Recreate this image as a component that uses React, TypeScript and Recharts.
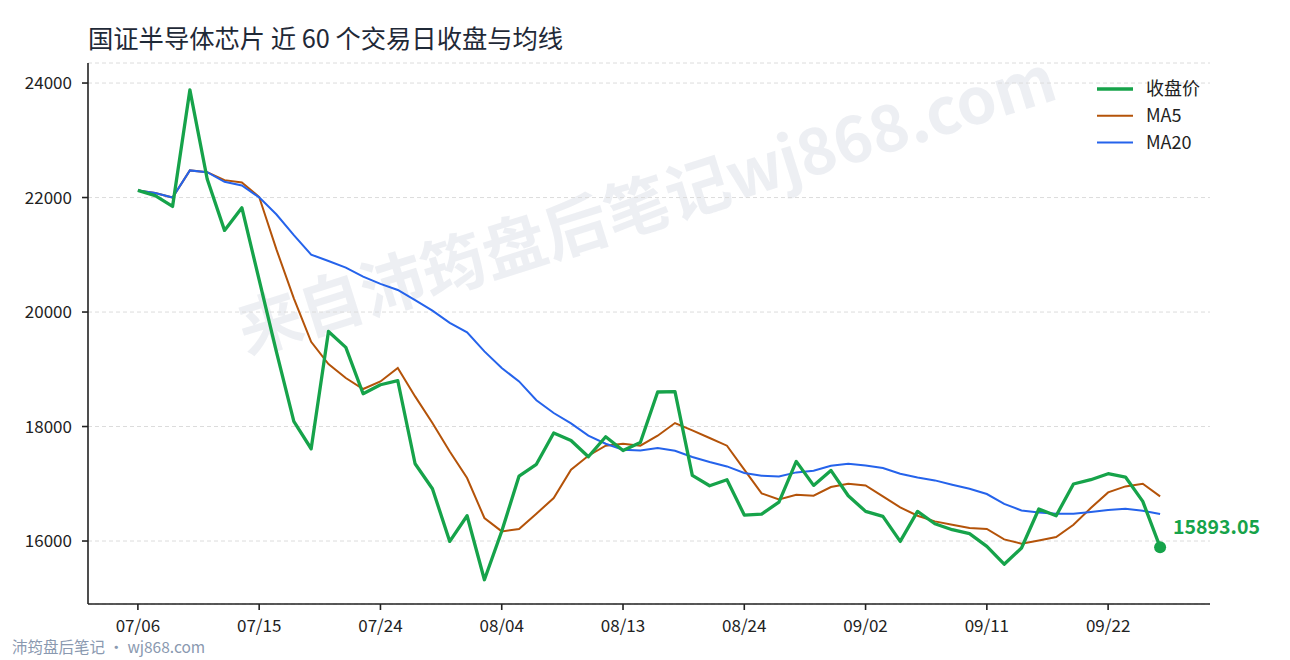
import React from "react";
import { LineChart, Line, XAxis, YAxis, CartesianGrid } from "recharts";

const FONT = '"Noto Sans CJK SC", "Noto Sans", sans-serif';

const dates = [
  "07/06", "07/07", "07/08", "07/09", "07/10", "07/13", "07/14", "07/15", "07/16", "07/17",
  "07/20", "07/21", "07/22", "07/23", "07/24", "07/27", "07/28", "07/29", "07/30", "07/31",
  "08/03", "08/04", "08/05", "08/06", "08/07", "08/10", "08/11", "08/12", "08/13", "08/14",
  "08/17", "08/18", "08/19", "08/20", "08/21", "08/24", "08/25", "08/26", "08/27", "08/28",
  "08/31", "09/01", "09/02", "09/03", "09/04", "09/07", "09/08", "09/09", "09/10", "09/11",
  "09/14", "09/15", "09/16", "09/17", "09/18", "09/21", "09/22", "09/23", "09/24", "09/25",
];

const close = [
  22124, 22032, 21845, 23880, 22323, 21426, 21822, 20560, 19300, 18089,
  17612, 19661, 19382, 18573, 18730, 18800, 17350, 16914, 15993, 16442,
  15324, 16170, 17135, 17340, 17887, 17757, 17472, 17822, 17580, 17722,
  18603, 18610, 17146, 16966, 17071, 16454, 16470, 16680, 17391, 16972,
  17233, 16791, 16518, 16430, 15993, 16518, 16302, 16198, 16128, 15906,
  15595, 15878, 16559, 16442, 16996, 17071, 17176, 17118, 16692, 15893.05,
];

const ma5 = [
  22124, 22078, 22000, 22474, 22443, 22304, 22262, 22010, 21090, 20240,
  19480, 19090, 18847, 18655, 18788, 19022, 18526, 18061, 17565, 17100,
  16402, 16168, 16210, 16477, 16751, 17246, 17490, 17665, 17700, 17665,
  17840, 18061, 17932, 17800, 17665, 17246, 16832, 16728, 16809, 16791,
  16943, 17001, 16972, 16780, 16587, 16442, 16343, 16285, 16227, 16210,
  16029, 15953, 16011, 16070, 16285, 16576, 16849, 16954, 17001, 16780,
];

const ma20 = [
  22124, 22078, 22000, 22474, 22443, 22274, 22210, 22003, 21703, 21342,
  21003, 20891, 20775, 20617, 20492, 20386, 20207, 20024, 19812, 19644,
  19312, 19022, 18788, 18460, 18236, 18055, 17840, 17700, 17595, 17583,
  17624, 17577, 17467, 17380, 17303, 17188, 17141, 17129, 17199, 17228,
  17315, 17350, 17321, 17275, 17176, 17111, 17059, 16984, 16914, 16821,
  16650, 16535, 16500, 16477, 16477, 16507, 16541, 16564, 16529, 16471,
];

const xTicks = [0, 7, 14, 21, 28, 35, 42, 49, 56];
const yTicks = [16000, 18000, 20000, 22000, 24000];

const legendItems = [
  { label: "收盘价", color: "#16a34a", width: 3.6 },
  { label: "MA5", color: "#b45309", width: 2 },
  { label: "MA20", color: "#2563eb", width: 2 },
];

const data = dates.map((d, i) => ({
  i,
  date: d,
  close: close[i],
  ma5: ma5[i],
  ma20: ma20[i],
}));

const lastIdx = data.length - 1;

function LastDot(props: any) {
  const { cx, cy, index } = props;
  if (index !== lastIdx) return <g key={"d" + index} />;
  return (
    <g key={"d" + index}>
      <circle cx={cx} cy={cy} r={6} fill="#16a34a" />
      <text
        x={cx + 13}
        y={cy - 13}
        fill="#16a34a"
        fontSize={19.5}
        fontWeight={700}
        fontFamily={FONT}
      >
        {close[lastIdx].toFixed(2)}
      </text>
    </g>
  );
}

export default function App() {
  const tickStyle = { fontSize: 17, fill: "#222", fontFamily: FONT };

  return (
    <div
      style={{
        position: "absolute",
        left: 0,
        top: 0,
        width: 1290,
        height: 660,
        background: "#fff",
        fontFamily: FONT,
        overflow: "hidden",
      }}
    >
      {/* watermark sits under the chart */}
      <svg width={1290} height={660} style={{ position: "absolute", left: 0, top: 0 }}>
        <text
          x={645}
          y={200}
          textAnchor="middle"
          dominantBaseline="central"
          transform="rotate(-17.5 645 200)"
          fontSize={64}
          fontWeight={700}
          fontFamily={FONT}
          fill="rgba(148,163,184,0.17)"
        >
          来自沛筠盘后笔记wj868.com
        </text>
      </svg>

      <div style={{ position: "absolute", left: 0, top: 0 }}>
        <LineChart
          width={1290}
          height={660}
          data={data}
          margin={{ top: 63, right: 80, bottom: 26, left: 8 }}
          style={{ overflow: "visible" }}
        >
          <CartesianGrid vertical={false} stroke="#dcdcdc" strokeDasharray="4 3" />
          <XAxis
            dataKey="i"
            type="number"
            domain={[-2.88, 61.88]}
            ticks={xTicks}
            tickFormatter={(v: number) => dates[v]}
            height={30}
            tick={tickStyle}
            tickSize={6}
            tickMargin={10}
            axisLine={{ stroke: "#222", strokeWidth: 1.6 }}
            tickLine={{ stroke: "#222", strokeWidth: 1.6 }}
          />
          <YAxis
            domain={[14900, 24350]}
            ticks={yTicks}
            width={80}
            tick={tickStyle}
            tickSize={6}
            tickMargin={10}
            axisLine={{ stroke: "#222", strokeWidth: 1.6 }}
            tickLine={{ stroke: "#222", strokeWidth: 1.6 }}
          />
          <Line
            dataKey="ma5"
            stroke="#b45309"
            strokeWidth={2}
            dot={false}
            isAnimationActive={false}
          />
          <Line
            dataKey="ma20"
            stroke="#2563eb"
            strokeWidth={2}
            dot={false}
            isAnimationActive={false}
          />
          <Line
            dataKey="close"
            stroke="#16a34a"
            strokeWidth={3.3}
            strokeLinejoin="round"
            dot={LastDot}
            activeDot={false}
            isAnimationActive={false}
          />
        </LineChart>
      </div>

      <svg
        width={1290}
        height={660}
        style={{ position: "absolute", left: 0, top: 0, pointerEvents: "none" }}
      >
        <text x={88} y={48} fontSize={25.3} fill="#1f2937" fontFamily={FONT}>
          国证半导体芯片 近 60 个交易日收盘与均线
        </text>
        {legendItems.map((it, k) => {
          const y = 89 + k * 26.7;
          return (
            <g key={it.label}>
              <line x1={1097} x2={1133} y1={y} y2={y} stroke={it.color} strokeWidth={it.width} />
              <text x={1146} y={y} dy="0.36em" fontSize={18} fill="#222" fontFamily={FONT}>
                {it.label}
              </text>
            </g>
          );
        })}
        <text x={12} y={653} fontSize={15.5} fill="#8a99b0" fontFamily={FONT}>
          沛筠盘后笔记 · wj868.com
        </text>
      </svg>
    </div>
  );
}
